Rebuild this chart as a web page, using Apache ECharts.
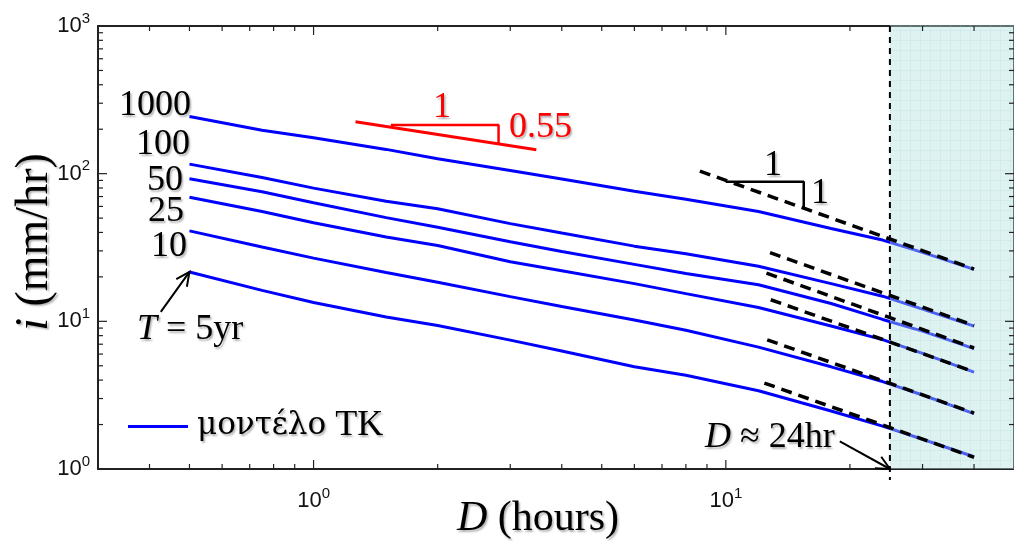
<!DOCTYPE html>
<html><head><meta charset="utf-8">
<script src="https://cdn.jsdelivr.net/npm/echarts@6/dist/echarts.min.js"></script>
<style>html,body{margin:0;padding:0;background:#fff}#c{width:1014px;height:541px}</style>
</head><body><div id="c"></div>
<script>
// ---- data ----
const durations = [0.5, 0.75, 1, 1.5, 2, 3, 4, 6, 8, 12, 18, 24, 30, 40];
const iT1000 = [244, 197, 175, 146, 126, 105, 92, 76, 67, 55.5, 42.5, 35.5, 29.3, 22.5];
const iT100  = [116, 94.2, 79.8, 65.0, 57.8, 45.9, 39.6, 32.3, 28.7, 23.6, 18.0, 14.8, 12.1, 9.28];
const iT50   = [92.5, 75.4, 63.5, 50.4, 43.4, 34.6, 29.7, 24.3, 21.1, 17.7, 13.2, 10.3, 8.58, 6.53];
const iT25   = [69.2, 55.4, 46.5, 37.2, 32.6, 25.3, 22.0, 18.0, 15.4, 12.4, 9.29, 7.52, 6.06, 4.53];
const iT10   = [41.0, 31.9, 26.8, 21.4, 18.4, 14.7, 12.6, 10.2, 8.71, 6.69, 4.92, 3.91, 3.17, 2.37];
const iT5    = [21.6, 16.2, 13.4, 10.7, 9.38, 7.46, 6.29, 4.93, 4.31, 3.39, 2.47, 1.95, 1.59, 1.21];

const dash1000 = [[8.65, 104], [40, 22.6]];
const dash100  = [[12.8, 29.2], [40, 9.37]];
const dash50   = [[12.55, 21.2], [40, 6.6]];
const dash25   = [[12.85, 14.0], [40, 4.55]];
const dash10   = [[12.6, 7.5], [40, 2.39]];
const dash5    = [[12.4, 3.82], [40, 1.2]];

const redSlopeLine  = [[1.264, 225], [3.47, 145]];
const redTriangle   = [[1.54, 214], [2.81, 214], [2.81, 159]];
const blackTriangle = [[10.0, 88.3], [15.45, 88.3], [15.45, 57.4]];

const shadeRange = [25, 50];
const dayLine = 25;
const arrowT = [0.426, 11.6, 0.5, 21.6];
const arrowD = [18.9, 1.54, 25, 1];

const xMajorTicks = [1, 10];
const xMinorTicks = [0.4, 0.5, 0.6, 0.7, 0.8, 0.9, 2, 3, 4, 5, 6, 7, 8, 9, 20, 30, 40];
const yMajorTicks = [10, 100];
const yMinorTicks = [2, 3, 4, 5, 6, 7, 8, 9, 20, 30, 40, 50, 60, 70, 80, 90, 200, 300, 400, 500, 600, 700, 800, 900];

const curveLabels = ['1000', '100', '50', '25', '10'];
const legendName = 'μοντέλο TK';
const legendWordGreek = 'μοντέλο';
const legendWordLatin = 'TK';

// ---- rendering ----
const chart = echarts.init(document.getElementById('c'), null, {renderer: 'canvas'});

const pc = document.createElement('canvas'); pc.width = 10; pc.height = 10;
const g = pc.getContext('2d');
g.fillStyle = 'rgba(178,224,224,0.42)'; g.fillRect(0, 0, 10, 10);
g.fillStyle = 'rgba(150,205,205,0.18)'; g.fillRect(0, 0, 10, 1); g.fillRect(0, 0, 1, 10);

const serif = 'Liberation Serif';
const greekSerif = 'DejaVu Serif';
const sans = 'Liberation Sans';
const shadow = {textShadowColor: 'rgba(0,0,0,0.3)', textShadowBlur: 2, textShadowOffsetX: 1.5, textShadowOffsetY: 1.5};

function powLabel(v) {
  const l = Math.log10(v);
  const e = Math.round(l);
  if (Math.abs(l - e) > 1e-6) return '';
  return '{b|10}{s|' + e + '}';
}
const labelRich = {
  b: {fontSize: 22, fontFamily: sans, color: '#111', lineHeight: 30},
  s: {fontSize: 15, fontFamily: sans, color: '#111', lineHeight: 12, verticalAlign: 'top'}
};

function tickSeries(values, len, dir) {
  return {
    type: 'custom', silent: true, z: 6, clip: false,
    data: values.map(v => dir === 'x' ? [v, 10] : [1, v]),
    renderItem: function (params, api) {
      const cs = params.coordSys;
      const st = {stroke: '#222', lineWidth: 1.2};
      if (dir === 'x') {
        const x = api.coord([api.value(0), 10])[0];
        return {type: 'group', children: [
          {type: 'line', shape: {x1: x, y1: cs.y + cs.height, x2: x, y2: cs.y + cs.height - len}, style: st},
          {type: 'line', shape: {x1: x, y1: cs.y, x2: x, y2: cs.y + len}, style: st}
        ]};
      } else {
        const y = api.coord([1, api.value(1)])[1];
        return {type: 'group', children: [
          {type: 'line', shape: {x1: cs.x, y1: y, x2: cs.x + len, y2: y}, style: st},
          {type: 'line', shape: {x1: cs.x + cs.width, y1: y, x2: cs.x + cs.width - len, y2: y}, style: st}
        ]};
      }
    }
  };
}

const curves = [iT1000, iT100, iT50, iT25, iT10, iT5];
const dashes = [dash1000, dash100, dash50, dash25, dash10, dash5];

const series = [];
curves.forEach(arr => {
  series.push({
    type: 'line', name: legendName, data: durations.map((d, k) => [d, arr[k]]),
    symbol: 'none', showSymbol: false, silent: true, z: 2,
    lineStyle: {color: '#0000ff', width: 3}, itemStyle: {color: '#0000ff'}
  });
});
// shaded region (x >= 25 hr)
series.push({
  type: 'custom', silent: true, z: 3, clip: false,
  data: [[shadeRange[0], shadeRange[1]]],
  encode: {x: [0, 1]},
  renderItem: function (params, api) {
    const cs = params.coordSys;
    const x1 = api.coord([api.value(0), 10])[0];
    const x2 = api.coord([api.value(1), 10])[0];
    return {type: 'rect', shape: {x: x1, y: cs.y - 1, width: x2 - x1 + 2, height: cs.height + 1},
      style: {fill: {image: pc, repeat: 'repeat'}}};
  }
});
// vertical dashed line at D ~ 24 hr
series.push({
  type: 'custom', silent: true, z: 4, clip: false,
  data: [[dayLine, 10]],
  renderItem: function (params, api) {
    const cs = params.coordSys;
    const x = api.coord([api.value(0), 10])[0];
    return {type: 'line', shape: {x1: x, y1: cs.y, x2: x, y2: cs.y + cs.height + 11},
      style: {stroke: '#000', lineWidth: 2, lineDash: [6, 5]}};
  }
});
dashes.forEach(d => {
  series.push({
    type: 'line', data: d, symbol: 'none', silent: true, z: 5,
    lineStyle: {color: '#000', width: 3.5, type: [11, 7]}
  });
});
series.push({type: 'line', data: redSlopeLine, symbol: 'none', silent: true, z: 5,
  lineStyle: {color: '#ff0000', width: 3}});
series.push({type: 'line', data: redTriangle, symbol: 'none', silent: true, z: 5,
  lineStyle: {color: '#ff0000', width: 2.5}});
series.push({type: 'line', data: blackTriangle, symbol: 'none', silent: true, z: 5,
  lineStyle: {color: '#000', width: 2.5}});
// arrows
series.push({
  type: 'custom', silent: true, z: 6, clip: false,
  data: [arrowT, arrowD],
  encode: {x: [0, 2], y: [1, 3]},
  renderItem: function (params, api) {
    const p1 = api.coord([api.value(0), api.value(1)]);
    const p2 = api.coord([api.value(2), api.value(3)]);
    const ang = Math.atan2(p2[1] - p1[1], p2[0] - p1[0]);
    const L = 15, a = 0.45;
    const h1 = [p2[0] - L * Math.cos(ang - a), p2[1] - L * Math.sin(ang - a)];
    const h2 = [p2[0] - L * Math.cos(ang + a), p2[1] - L * Math.sin(ang + a)];
    return {type: 'group', children: [
      {type: 'line', shape: {x1: p1[0], y1: p1[1], x2: p2[0], y2: p2[1]}, style: {stroke: '#000', lineWidth: 2}},
      {type: 'polyline', shape: {points: [h1, p2, h2]}, style: {stroke: '#000', lineWidth: 2, fill: null}}
    ]};
  }
});
series.push(tickSeries(xMinorTicks, 5, 'x'));
series.push(tickSeries(xMajorTicks, 9, 'x'));
series.push(tickSeries(yMinorTicks, 5, 'y'));
series.push(tickSeries(yMajorTicks, 9, 'y'));

function txt(x, y, text, size, align, color, extra) {
  return Object.assign({
    type: 'text', x: x, y: y, z: 100, silent: true,
    style: Object.assign({
      text: text, fontSize: size, fontFamily: serif, fill: color || '#000',
      align: align || 'left', verticalAlign: 'middle',
      rich: {
        i: {fontSize: size, fontFamily: serif, fontStyle: 'italic', fill: color || '#000'},
        n: {fontSize: size, fontFamily: serif, fill: color || '#000'},
        gr: {fontSize: 31, fontFamily: greekSerif, fill: color || '#000'}
      }
    }, shadow)
  }, extra || {});
}

const labelPos = [[191, 106], [190, 145], [183, 181], [184, 212], [187, 247]];
const graphic = curveLabels.map((t, k) => txt(labelPos[k][0], labelPos[k][1], t, 36, 'right'));
graphic.push(txt(137, 330, '{i|T}{n| = 5yr}', 36, 'left'));
graphic.push(txt(705, 438, '{i|D}{n| ≈ 24hr}', 36, 'left'));
graphic.push(txt(442, 108, '1', 36, 'center', '#ff0000'));
graphic.push(txt(509, 128, '0.55', 36, 'left', '#ff0000'));
graphic.push(txt(773, 166, '1', 36, 'center'));
graphic.push(txt(811, 194, '1', 36, 'left'));
graphic.push(txt(538, 519, '{i|D}{n| (hours)}', 42, 'center'));
graphic.push(txt(35, 242, '{i|i}{n| (mm/hr)}', 46, 'center', '#000', {rotation: Math.PI / 2}));
graphic.push(txt(197, 426, '{gr|' + legendWordGreek + '}{n| ' + legendWordLatin + '}', 36, 'left'));

const axisLineStyle = {show: true, onZero: false, lineStyle: {color: '#222', width: 2}};

chart.setOption({
  animation: false,
  backgroundColor: '#fff',
  grid: {left: 98, right: 0, top: 26, bottom: 72, containLabel: false},
  legend: {
    show: true, left: 128, top: 425, padding: 0, itemWidth: 60, itemHeight: 3, itemGap: 10,
    data: [{name: legendName, icon: 'rect'}],
    selectedMode: false,
    formatter: function () { return ''; },
    textStyle: {fontSize: 1}
  },
  xAxis: [
    {type: 'log', logBase: 10, min: 0.3, max: 50, position: 'bottom',
      axisLine: axisLineStyle, axisTick: {show: false}, splitLine: {show: false}, minorTick: {show: false},
      axisLabel: {formatter: powLabel, rich: labelRich, margin: 17, showMinLabel: false, showMaxLabel: false}},
    {type: 'log', logBase: 10, min: 0.3, max: 50, position: 'top',
      axisLine: axisLineStyle, axisTick: {show: false}, splitLine: {show: false}, axisLabel: {show: false}}
  ],
  yAxis: [
    {type: 'log', logBase: 10, min: 1, max: 1000, position: 'left',
      axisLine: axisLineStyle, axisTick: {show: false}, splitLine: {show: false},
      axisLabel: {formatter: powLabel, rich: labelRich, margin: 8}},
    {type: 'log', logBase: 10, min: 1, max: 1000, position: 'right',
      axisLine: axisLineStyle, axisTick: {show: false}, splitLine: {show: false}, axisLabel: {show: false}}
  ],
  series: series,
  graphic: graphic
});
</script></body></html>
